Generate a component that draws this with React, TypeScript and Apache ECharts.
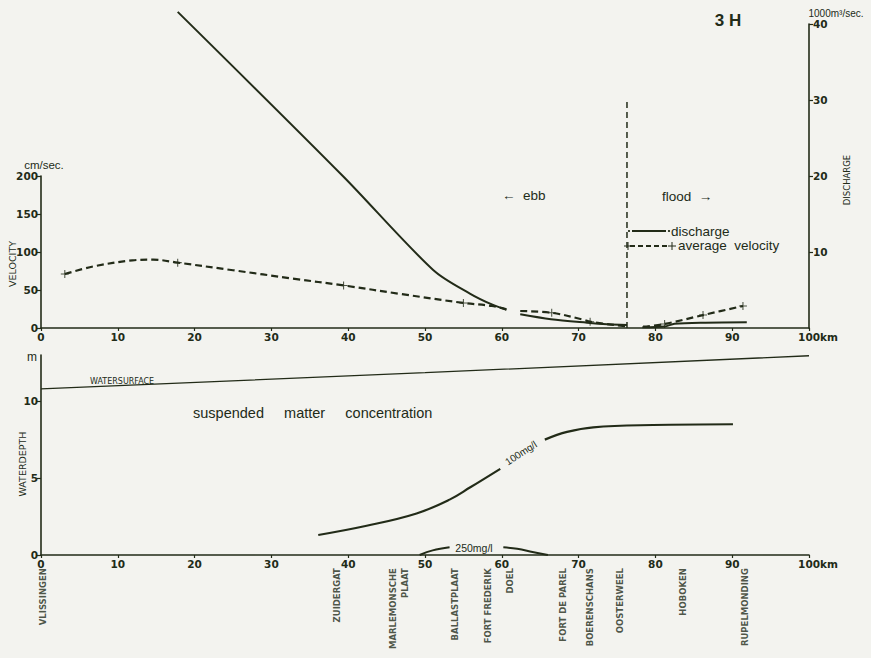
import React, { useEffect, useRef } from 'react';
import * as echarts from 'echarts';

// ---------- data ----------
const kmMin = 0;
const kmMax = 100;
const velocityTicks = [0, 200, 50];
const dischargeTicks = [0, 40, 10];
const depthTicks = [0, 13, 5];

// average velocity (cm/sec) along the estuary, ebb side and flood side
const velocityEbb: any[] = [
  [3.1, 71], [6.8, 81], [11.9, 89], [14.6, 90], [17.8, 86], [25, 76], [32.8, 65],
  [39.4, 56], [47, 44.5], [55, 33], [58.7, 29], [60.6, 24.5], [61.5, '-'],
  [62.4, 22.4], [66.5, 20], [70.6, 11], [71.5, 8.3], [76.3, 2],
];
const velocityFlood: any[] = [[78.4, 1.7], [81.2, 5.3], [86.2, 17], [91.4, 29]];
const velocityMarks: any[] = [
  [3.1, 71], [17.8, 86], [39.4, 56], [55, 33], [66.5, 20], [71.5, 8.3],
  [81.2, 5.3], [86.2, 17], [91.4, 29],
];

// discharge (1000 m3/sec)
const dischargeEbb: any[] = [
  [17.8, 41.6], [39.3, 20], [51.1, 7.6], [55.9, 4.5], [58.7, 3.1], [60.6, 2.4], [61.5, '-'],
  [62.4, 1.8], [66.4, 1.15], [71.1, 0.7], [73.7, 0.5], [76.3, 0.4],
];
const dischargeFlood: any[] = [[78.3, 0.1], [81.2, 0.2], [82.5, 0.55], [86.5, 0.7], [91.9, 0.75]];
const slackWater: any[] = [[76.3, 0], [76.3, 30]];

// water depth section (m)
const waterSurface: any[] = [[0, 10.8], [50, 11.85], [100, 12.95]];
const conc100: any[] = [
  [36.1, 1.3], [42.4, 1.9], [48.9, 2.7], [53.2, 3.6], [55.9, 4.4], [59.8, 5.6], [62.7, '-'],
  [65.6, 7.5], [68.5, 8.0], [71.9, 8.3], [79.7, 8.45], [90.1, 8.5],
];
const conc250: any[] = [
  [49.3, 0], [51, 0.3], [53.2, 0.5], [56.7, '-'], [60.2, 0.5], [62, 0.4], [64, 0.2], [66, 0],
];

const stationNames = [
  'VLISSINGEN', 'ZUIDERGAT', 'MARLEMONSCHE\nPLAAT', 'BALLASTPLAAT', 'FORT FREDERIK', 'DOEL',
  'FORT DE PAREL', 'BOERENSCHANS', 'OOSTERWEEL', 'HOBOKEN', 'RUPELMONDING',
];
const stationKm = [0.2, 38.6, 46.6, 53.9, 58.2, 61.1, 68, 71.5, 75.4, 83.6, 91.7];

// ---------- styling ----------
const ink = '#222b18';
const tickFont = { color: ink, fontFamily: 'DejaVu Sans', fontWeight: 'bold' as const, fontSize: 10.5 };
const plusPath =
  'path://M-0.13,-1H0.13V-0.13H1V0.13H0.13V1H-0.13V0.13H-1V-0.13H-0.13Z';

function kmAxis(gridIndex: number, show: boolean) {
  return {
    type: 'value',
    gridIndex,
    min: kmMin,
    max: kmMax,
    interval: 10,
    show,
    axisLine: { show: true, onZero: false, lineStyle: { color: ink, width: 1.6 } },
    axisTick: { show: true, length: 3, lineStyle: { color: ink, width: 1.2 } },
    axisLabel: {
      ...tickFont,
      margin: 3,
      formatter: (v: number) => (v === 100 ? '{p| }{k|100km}' : String(v)),
      rich: {
        p: { width: 18 },
        k: { ...tickFont },
      },
    },
    splitLine: { show: false },
  };
}

function valAxis(gridIndex: number, ticks: number[], position: string, extra: any = {}) {
  return {
    type: 'value',
    gridIndex,
    min: ticks[0],
    max: ticks[1],
    interval: ticks[2],
    position,
    axisLine: { show: true, onZero: false, lineStyle: { color: ink, width: 1.6 } },
    axisTick: { show: true, length: 4, lineStyle: { color: ink, width: 1.2 } },
    axisLabel: { ...tickFont, margin: 3 },
    splitLine: { show: false },
    ...extra,
  };
}

function txt(text: string, x: number, y: number, opts: any = {}) {
  const { rotation, fontSize = 13, align = 'center', fontWeight = 'normal', family = 'Liberation Sans' } = opts;
  return {
    type: 'text',
    x,
    y,
    rotation: rotation || 0,
    style: {
      text,
      fill: ink,
      fontSize,
      fontWeight,
      fontFamily: family,
      align,
      verticalAlign: 'middle',
    },
  };
}

function buildOption() {
  const lineBase = { type: 'line', showSymbol: false, silent: true };
  return {
    animation: false,
    backgroundColor: '#f3f3ef',
    grid: [
      { left: 41, right: 62, top: 176, height: 152 },
      { left: 41, right: 62, top: 24, height: 304 },
      { left: 41, right: 62, top: 355, height: 200 },
    ],
    xAxis: [kmAxis(0, true), kmAxis(1, false), kmAxis(2, true)],
    yAxis: [
      valAxis(0, velocityTicks, 'left'),
      valAxis(1, dischargeTicks, 'right', { axisLabel: { ...tickFont, margin: 4, showMinLabel: false } }),
      valAxis(2, depthTicks, 'left', {
        axisLabel: { ...tickFont, margin: 3, showMaxLabel: false, formatter: (v: number) => (v > 10 ? '' : String(v)) },
      }),
    ],
    series: [
      {
        ...lineBase,
        name: 'average velocity',
        xAxisIndex: 0,
        yAxisIndex: 0,
        data: velocityEbb,
        smooth: 0.35,
        lineStyle: { color: ink, width: 2.2, type: [7, 4] },
      },
      {
        ...lineBase,
        xAxisIndex: 0,
        yAxisIndex: 0,
        data: velocityFlood,
        smooth: 0.3,
        lineStyle: { color: ink, width: 2.2, type: [7, 4] },
      },
      {
        type: 'scatter',
        xAxisIndex: 0,
        yAxisIndex: 0,
        data: velocityMarks,
        symbol: plusPath,
        symbolSize: 8,
        itemStyle: { color: ink },
        silent: true,
      },
      {
        ...lineBase,
        name: 'discharge',
        xAxisIndex: 1,
        yAxisIndex: 1,
        clip: false,
        data: dischargeEbb,
        smooth: 0.3,
        lineStyle: { color: ink, width: 2 },
      },
      {
        ...lineBase,
        xAxisIndex: 1,
        yAxisIndex: 1,
        data: dischargeFlood,
        smooth: 0.3,
        lineStyle: { color: ink, width: 2 },
      },
      {
        ...lineBase,
        xAxisIndex: 1,
        yAxisIndex: 1,
        data: slackWater,
        lineStyle: { color: ink, width: 1.5, type: [6, 4] },
      },
      {
        ...lineBase,
        xAxisIndex: 2,
        yAxisIndex: 2,
        data: waterSurface,
        lineStyle: { color: ink, width: 1.3 },
      },
      {
        ...lineBase,
        xAxisIndex: 2,
        yAxisIndex: 2,
        data: conc100,
        smooth: 0.4,
        lineStyle: { color: ink, width: 2.2 },
      },
      {
        ...lineBase,
        xAxisIndex: 2,
        yAxisIndex: 2,
        data: conc250,
        smooth: 0.4,
        lineStyle: { color: ink, width: 2 },
      },
      {
        type: 'scatter',
        xAxisIndex: 2,
        yAxisIndex: 2,
        clip: false,
        silent: true,
        symbolSize: 0,
        data: stationNames.map((n, i) => ({ name: n, value: [stationKm[i], -0.85] })),
        label: {
          show: true,
          formatter: '{b}',
          position: [0, 0],
          rotate: 90,
          align: 'right',
          verticalAlign: 'middle',
          color: ink,
          fontFamily: 'DejaVu Sans',
          fontWeight: 'bold',
          fontSize: 8.5,
          lineHeight: 12,
        },
      },
    ],
    graphic: [
      txt('3 H', 728, 20, { fontSize: 17, fontWeight: 'bold' }),
      txt('1000m³/sec.', 836, 13, { fontSize: 10 }),
      txt('cm/sec.', 44, 165, { fontSize: 11.5 }),
      txt('VELOCITY', 12, 264, { rotation: Math.PI / 2, fontSize: 9.5, family: 'DejaVu Sans' }),
      txt('DISCHARGE', 847, 180, { rotation: Math.PI / 2, fontSize: 8.5, family: 'DejaVu Sans' }),
      txt('WATERDEPTH', 22, 464, { rotation: Math.PI / 2, fontSize: 9.5, family: 'DejaVu Sans' }),
      txt('m', 32, 357, { fontSize: 12 }),
      txt('←  ebb', 502, 195, { align: 'left', fontSize: 13.5 }),
      txt('flood  →', 662, 196, { align: 'left', fontSize: 13.5 }),
      // legend
      { type: 'line', shape: { x1: 632, y1: 231, x2: 666, y2: 231 }, style: { stroke: ink, lineWidth: 2.2 } },
      { type: 'circle', shape: { cx: 629, cy: 231, r: 1.1 }, style: { fill: ink } },
      { type: 'circle', shape: { cx: 669, cy: 231, r: 1.1 }, style: { fill: ink } },
      txt('discharge', 671, 231, { align: 'left', fontSize: 13.5 }),
      {
        type: 'line',
        shape: { x1: 630, y1: 246, x2: 670, y2: 246 },
        style: { stroke: ink, lineWidth: 2, lineDash: [5, 3] },
      },
      { type: 'line', shape: { x1: 628, y1: 242, x2: 628, y2: 250 }, style: { stroke: ink, lineWidth: 1 } },
      { type: 'line', shape: { x1: 624, y1: 246, x2: 632, y2: 246 }, style: { stroke: ink, lineWidth: 1 } },
      { type: 'line', shape: { x1: 672, y1: 242, x2: 672, y2: 250 }, style: { stroke: ink, lineWidth: 1 } },
      { type: 'line', shape: { x1: 668, y1: 246, x2: 676, y2: 246 }, style: { stroke: ink, lineWidth: 1 } },
      txt('average  velocity', 678, 245, { align: 'left', fontSize: 13.5 }),
      // lower panel annotations
      txt('WATERSURFACE', 90, 381, { align: 'left', fontSize: 8, family: 'DejaVu Sans' }),
      txt('suspended     matter     concentration', 193, 413, { align: 'left', fontSize: 14.5 }),
      txt('100mg/l', 521, 453, { rotation: 0.58, fontSize: 10 }),
      txt('250mg/l', 474, 548, { fontSize: 10.5 }),
    ],
  };
}

export default function App() {
  const ref = useRef<HTMLDivElement>(null);
  useEffect(() => {
    if (!ref.current) return;
    const chart = echarts.init(ref.current, null, { renderer: 'svg' });
    chart.setOption(buildOption() as any);
    return () => chart.dispose();
  }, []);
  return (
    <div
      ref={ref}
      style={{ position: 'fixed', left: 0, top: 0, width: 871, height: 658 }}
    />
  );
}
